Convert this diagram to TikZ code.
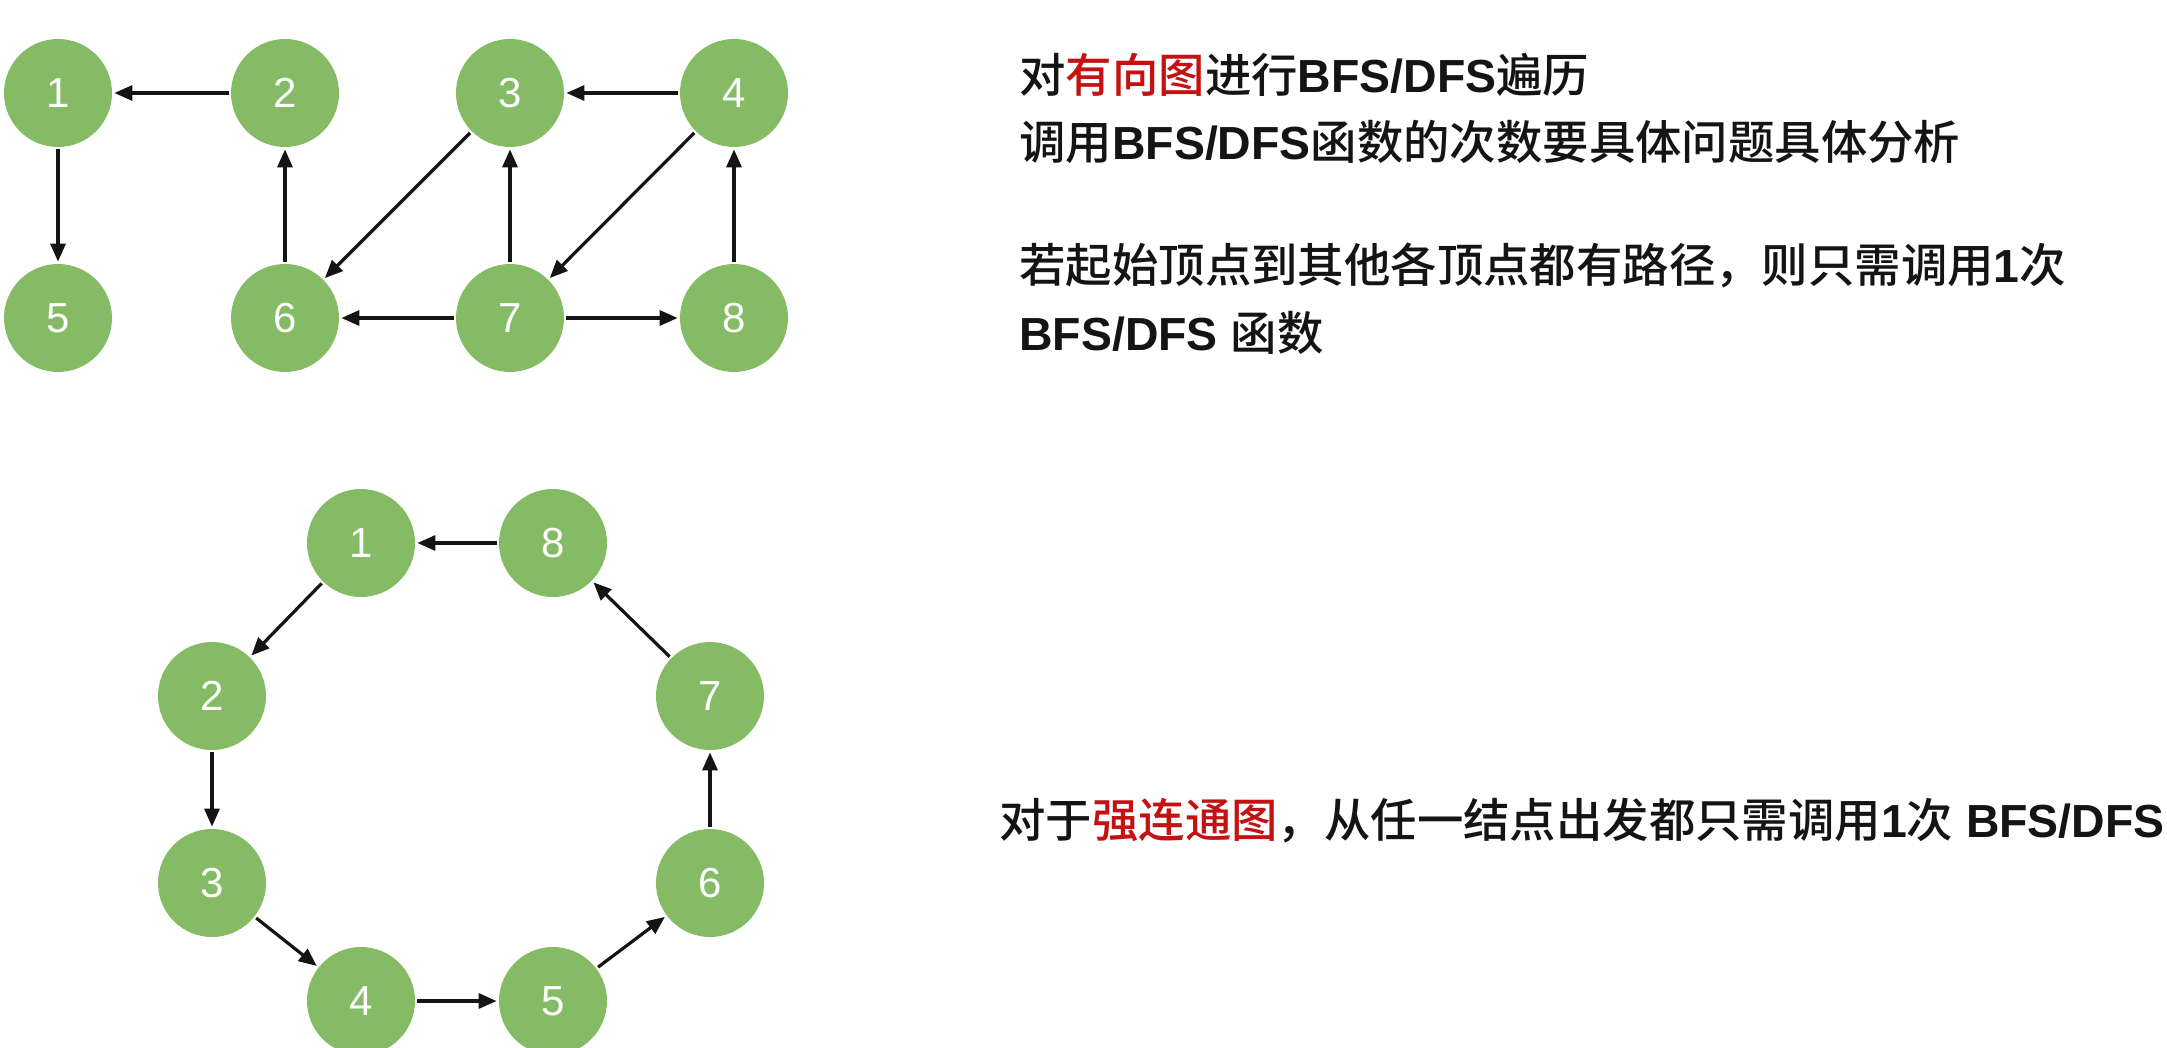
\documentclass[tikz,border=0pt]{standalone}
\usepackage{fontspec}
\setmainfont{Liberation Sans}
\newfontfamily\cjkfont{Noto Sans CJK SC}[UprightFont={* Medium}]
\usetikzlibrary{arrows.meta}

\definecolor{nodegreen}{RGB}{133,187,101}
\definecolor{hlred}{RGB}{196,18,18}
\definecolor{ink}{RGB}{20,20,20}

% CJK run and bold Latin run
\newcommand\zh[1]{{\cjkfont #1}}
\newcommand\en[1]{{\bfseries #1}}

\begin{document}
\begin{tikzpicture}[x=0.5pt,y=-0.5pt,
  vtx/.style={circle,fill=nodegreen,minimum size=54pt,inner sep=0pt,
    text=white,font=\fontsize{21}{21}\selectfont},
  arc/.style={draw=ink,line width=1.6pt,
    -{Triangle[length=9pt,width=7.5pt]},shorten >=1pt,shorten <=1pt},
  txt/.style={anchor=base west,inner sep=0pt,
    font=\fontsize{23.2}{23.2}\selectfont,text=ink}]
\useasboundingbox (0,0) rectangle (2167,1048);
\fill[white] (0,0) rectangle (2167,1048);

% directed graph (two rows)
\node[vtx] (a1) at (58,93)  {1};
\node[vtx] (a2) at (285,93) {2};
\node[vtx] (a3) at (510,93) {3};
\node[vtx] (a4) at (734,93) {4};
\node[vtx] (a5) at (58,318)  {5};
\node[vtx] (a6) at (285,318) {6};
\node[vtx] (a7) at (510,318) {7};
\node[vtx] (a8) at (734,318) {8};

\draw[arc] (a2) -- (a1);
\draw[arc] (a1) -- (a5);
\draw[arc] (a6) -- (a2);
\draw[arc] (a3) -- (a6);
\draw[arc] (a7) -- (a3);
\draw[arc] (a4) -- (a3);
\draw[arc] (a4) -- (a7);
\draw[arc] (a7) -- (a6);
\draw[arc] (a7) -- (a8);
\draw[arc] (a8) -- (a4);

% strongly connected ring
\node[vtx] (b1) at (361,543) {1};
\node[vtx] (b8) at (553,543) {8};
\node[vtx] (b2) at (212,696) {2};
\node[vtx] (b7) at (710,696) {7};
\node[vtx] (b3) at (212,883) {3};
\node[vtx] (b6) at (710,883) {6};
\node[vtx] (b4) at (361,1001) {4};
\node[vtx] (b5) at (553,1001) {5};

\draw[arc] (b8) -- (b1);
\draw[arc] (b1) -- (b2);
\draw[arc] (b2) -- (b3);
\draw[arc] (b3) -- (b4);
\draw[arc] (b4) -- (b5);
\draw[arc] (b5) -- (b6);
\draw[arc] (b6) -- (b7);
\draw[arc] (b7) -- (b8);

% notes
\node[txt] (t1) at (1019,93)
  {\zh{对}\zh{\color{hlred}有向图}\zh{进行}\en{BFS/DFS}\zh{遍历}};
\node[txt] (t2) at (1019,160)
  {\zh{调用}\en{BFS/DFS}\zh{函数的次数要具体问题具体分析}};
\node[txt] (t3) at (1019,283)
  {\zh{若起始顶点到其他各顶点都有路径，则只需调用}\en{1}\zh{次}};
\node[txt] (t4) at (1019,350)
  {\en{BFS/DFS}\ \zh{函数}};
\node[txt] (t5) at (999,837)
  {\zh{对于}\zh{\color{hlred}强连通图}\zh{，从任一结点出发都只需调用}\en{1}\zh{次}\ \en{BFS/DFS}};
\end{tikzpicture}
\end{document}
